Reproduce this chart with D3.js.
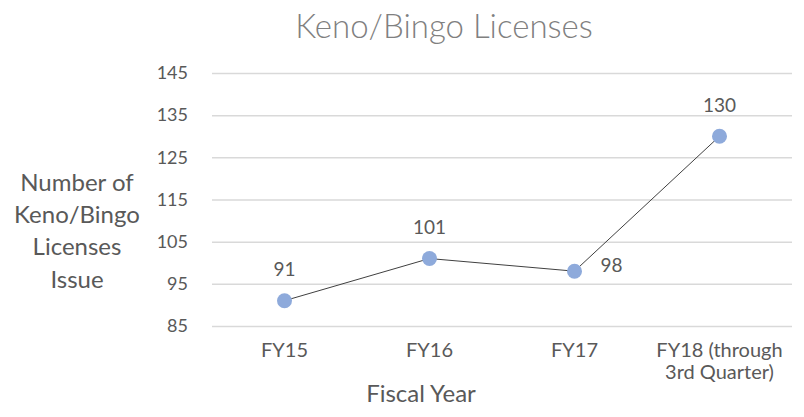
<!DOCTYPE html>
<html>
<head>
<meta charset="utf-8">
<script src="https://cdn.jsdelivr.net/npm/d3@7"></script>
<style>
  body { margin: 0; background: #fff; }
  svg text { font-family: Lato, "Open Sans", sans-serif; }
</style>
</head>
<body>
<div id="chart"></div>
<script>
// chart data
const categories = ["FY15", "FY16", "FY17", "FY18 (through 3rd Quarter)"];
const catLines = [["FY15"], ["FY16"], ["FY17"], ["FY18 (through", "3rd Quarter)"]];
const licenses = [91, 101, 98, 130];
const yTicks = [85, 95, 105, 115, 125, 135, 145];
const chartTitle = "Keno/Bingo Licenses";
const xTitle = "Fiscal Year";
const yTitleLines = ["Number of", "Keno/Bingo", "Licenses", "Issue"];

const width = 804, height = 417;
const plot = { left: 212, right: 792, top: 73, bottom: 326 };

const svg = d3.select("#chart").append("svg")
  .attr("width", width)
  .attr("height", height);

// scales
const x = d3.scaleBand()
  .domain(categories)
  .range([plot.left, plot.right])
  .padding(0);
const y = d3.scaleLinear()
  .domain([85, 145])
  .range([plot.bottom, plot.top]);
const cx = d => x(d) + x.bandwidth() / 2;

// title
svg.append("text")
  .attr("x", 444)
  .attr("y", 38)
  .attr("text-anchor", "middle")
  .attr("fill", "#808080")
  .style("font-size", "33px")
  .style("font-weight", 300)
  .text(chartTitle);

// gridlines + y labels
const yAxis = svg.append("g")
  .attr("transform", "translate(" + plot.left + ",0)")
  .call(d3.axisLeft(y).tickValues(yTicks).tickSize(-(plot.right - plot.left)).tickPadding(24));
yAxis.select(".domain").remove();
yAxis.selectAll(".tick line").attr("stroke", "#d9d9d9").attr("stroke-width", 1.5);
yAxis.selectAll(".tick text")
  .attr("fill", "#595959")
  .style("font-size", "18px")
  .style("font-family", "Lato, sans-serif");

// x labels
const xAxis = svg.append("g")
  .attr("transform", "translate(0," + plot.bottom + ")")
  .call(d3.axisBottom(x).tickSize(0).tickFormat(""));
xAxis.select(".domain").remove();
xAxis.selectAll(".tick").each(function (d, i) {
  const t = d3.select(this).append("text")
    .attr("y", 31)
    .attr("text-anchor", "middle")
    .attr("fill", "#595959")
    .style("font-size", "20px");
  catLines[i].forEach(function (line, j) {
    t.append("tspan").attr("x", 0).attr("dy", j === 0 ? 0 : 22).text(line);
  });
});

// axis titles
svg.append("text")
  .attr("x", 421)
  .attr("y", 402)
  .attr("text-anchor", "middle")
  .attr("fill", "#595959")
  .style("font-size", "24px")
  .text(xTitle);

const yt = svg.append("text")
  .attr("text-anchor", "middle")
  .attr("fill", "#595959")
  .style("font-size", "24px");
yTitleLines.forEach(function (line, i) {
  yt.append("tspan").attr("x", 77).attr("y", 191 + i * 32.2).text(line);
});

// line
const line = d3.line()
  .x((d, i) => cx(categories[i]))
  .y(d => y(d));
svg.append("path")
  .datum(licenses)
  .attr("fill", "none")
  .attr("stroke", "#404040")
  .attr("stroke-width", 1)
  .attr("d", line);

// markers
svg.selectAll(".dot")
  .data(licenses)
  .enter().append("circle")
  .attr("class", "dot")
  .attr("cx", (d, i) => cx(categories[i]))
  .attr("cy", d => y(d))
  .attr("r", 7.5)
  .attr("fill", "#8eaadb");

// data labels (FY17 label sits to the right)
svg.selectAll(".lbl")
  .data(licenses)
  .enter().append("text")
  .attr("class", "lbl")
  .attr("x", (d, i) => i === 2 ? cx(categories[i]) + 37 : cx(categories[i]))
  .attr("y", (d, i) => i === 2 ? y(d) + 1 : y(d) - 24.5)
  .attr("text-anchor", "middle")
  .attr("fill", "#595959")
  .style("font-size", "19px")
  .text(d => d);
</script>
</body>
</html>
